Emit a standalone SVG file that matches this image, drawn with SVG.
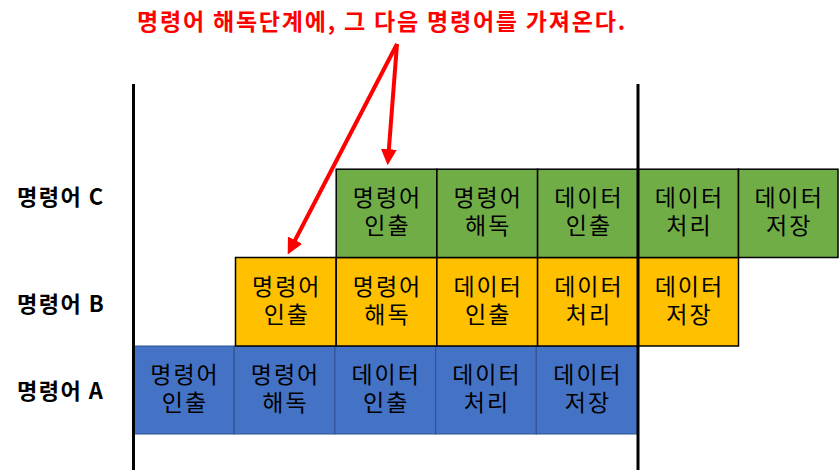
<svg xmlns="http://www.w3.org/2000/svg" width="839" height="472" viewBox="0 0 839 472">
<style>
text{font-family:"Malgun Gothic","Noto Sans CJK KR","Noto Sans",sans-serif}
.c{font-size:23px;fill:#000;text-anchor:middle;letter-spacing:2px}
.lab{font-size:22px;font-weight:bold;fill:#000;letter-spacing:1.5px}
.title{font-size:23px;font-weight:bold;fill:#FF0000;text-anchor:middle;letter-spacing:1.8px}
.a rect{fill:#4472C4;stroke:#2F528F;stroke-width:1}
.b rect{fill:#FFC000;stroke:#000;stroke-width:1.5}
.g rect{fill:#70AD47;stroke:#000;stroke-width:1.5}
.vl{stroke:#000;stroke-width:3}
.arr{stroke:#FF0000;stroke-width:4;fill:none}
</style>
<defs>
<marker id="ah" markerWidth="4" markerHeight="4" refX="2.2" refY="2" orient="auto" markerUnits="strokeWidth">
<path d="M0,0 L4,2 L0,4 Z" fill="#FF0000"/>
</marker>
</defs>
<rect width="839" height="472" fill="#fff"/>
<text class="title" x="382" y="30">명령어 해독단계에, 그 다음 명령어를 가져온다.</text>

<g id="labels">
<text class="lab" x="17" y="205">명령어 C</text>
<text class="lab" x="17" y="312">명령어 B</text>
<text class="lab" x="17" y="399">명령어 A</text>
</g>

<g id="rowA" class="a">
<g id="A1"><rect x="133.5" y="346" width="100.7" height="88"/><text class="c" x="185" y="383">명령어</text><text class="c" x="185" y="411">인출</text></g>
<g id="A2"><rect x="234.2" y="346" width="100.7" height="88"/><text class="c" x="285.5" y="383">명령어</text><text class="c" x="285.5" y="411">해독</text></g>
<g id="A3"><rect x="334.9" y="346" width="100.7" height="88"/><text class="c" x="386.2" y="383">데이터</text><text class="c" x="386.2" y="411">인출</text></g>
<g id="A4"><rect x="435.6" y="346" width="100.7" height="88"/><text class="c" x="486.9" y="383">데이터</text><text class="c" x="486.9" y="411">처리</text></g>
<g id="A5"><rect x="536.3" y="346" width="101.7" height="88"/><text class="c" x="588" y="383">데이터</text><text class="c" x="588" y="411">저장</text></g>
</g>

<g id="rowB" class="b">
<g id="B1"><rect x="235.5" y="257.5" width="100.7" height="88.5"/><text class="c" x="286.8" y="295">명령어</text><text class="c" x="286.8" y="323">인출</text></g>
<g id="B2"><rect x="336.2" y="257.5" width="100.7" height="88.5"/><text class="c" x="387.5" y="295">명령어</text><text class="c" x="387.5" y="323">해독</text></g>
<g id="B3"><rect x="436.9" y="257.5" width="100.7" height="88.5"/><text class="c" x="488.2" y="295">데이터</text><text class="c" x="488.2" y="323">인출</text></g>
<g id="B4"><rect x="537.6" y="257.5" width="100.7" height="88.5"/><text class="c" x="588.9" y="295">데이터</text><text class="c" x="588.9" y="323">처리</text></g>
<g id="B5"><rect x="638.3" y="257.5" width="100.2" height="88.5"/><text class="c" x="689.4" y="295">데이터</text><text class="c" x="689.4" y="323">저장</text></g>
</g>

<g id="rowC" class="g">
<g id="C1"><rect x="336.2" y="169.2" width="100.7" height="88.3"/><text class="c" x="387.5" y="206">명령어</text><text class="c" x="387.5" y="234">인출</text></g>
<g id="C2"><rect x="436.9" y="169.2" width="100.7" height="88.3"/><text class="c" x="488.2" y="206">명령어</text><text class="c" x="488.2" y="234">해독</text></g>
<g id="C3"><rect x="537.6" y="169.2" width="100.7" height="88.3"/><text class="c" x="588.9" y="206">데이터</text><text class="c" x="588.9" y="234">인출</text></g>
<g id="C4"><rect x="638.3" y="169.2" width="100.2" height="88.3"/><text class="c" x="689.4" y="206">데이터</text><text class="c" x="689.4" y="234">처리</text></g>
<g id="C5"><rect x="738.5" y="169.2" width="99.5" height="88.3"/><text class="c" x="789.2" y="206">데이터</text><text class="c" x="789.2" y="234">저장</text></g>
</g>

<g id="connectors">
<line class="vl" x1="133.5" y1="84" x2="133.5" y2="470"/>
<line class="vl" x1="638" y1="84" x2="638" y2="470"/>
<line class="arr" x1="397" y1="44" x2="388.2" y2="158" marker-end="url(#ah)"/>
<line class="arr" x1="397" y1="44" x2="291" y2="248" marker-end="url(#ah)"/>
</g>
</svg>
